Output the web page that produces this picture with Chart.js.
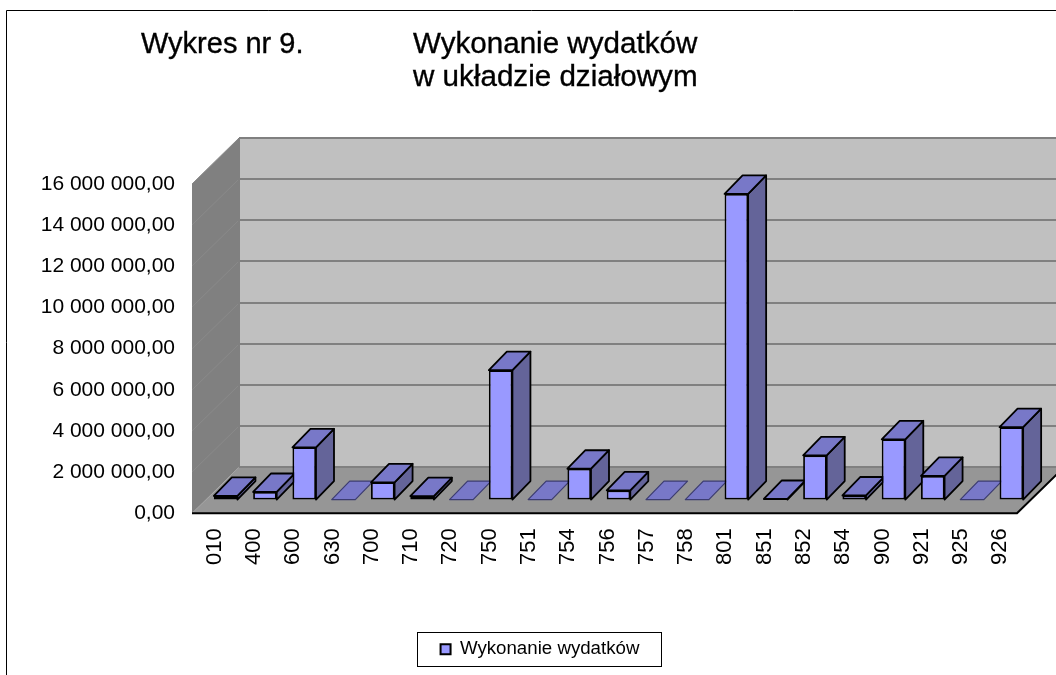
<!DOCTYPE html>
<html>
<head>
<meta charset="utf-8">
<style>html,body{margin:0;padding:0;background:#fff;overflow:hidden}#w{position:absolute;left:0;top:0;width:1056px;height:675px}</style>
<script src="https://cdn.jsdelivr.net/npm/chart.js@4"></script>
</head>
<body>
<div id="w"><canvas id="c" width="1056" height="675"></canvas></div>
<script>
const categories = ['010','400','600','630','700','710','720','750','751','754','756','757','758','801','851','852','854','900','921','925','926'];
const seriesName = 'Wykonanie wydatków';
const values = [180000,370000,2540000,0,840000,170000,0,6290000,0,1500000,450000,0,0,14850000,30000,2150000,200000,2930000,1150000,0,3520000];
const titleLeft = ['Wykres nr 9.'];
const titleRight = ['Wykonanie wydatków','w układzie działowym'];

const FONT = '"Liberation Sans", Arial, sans-serif';
const DEPTH = {x:47, y:46};      // wall/floor depth
const BAR_OFF = {x:14, y:13.7};  // bars sit inside the floor
const BAR_D = {x:18, y:18.5};    // bar depth

function poly(ctx, pts, fill, stroke, lw){
  ctx.beginPath();
  pts.forEach((p,i)=> i?ctx.lineTo(p[0],p[1]):ctx.moveTo(p[0],p[1]));
  ctx.closePath();
  if(fill){ctx.fillStyle=fill;ctx.fill();}
  if(stroke){ctx.strokeStyle=stroke;ctx.lineWidth=lw||1;ctx.lineJoin='round';ctx.stroke();}
}

const box3d = {
  id:'box3d',
  afterLayout(chart){
    const lg = chart.legend;
    lg.left = 418; lg.right = 662; lg.width = 244; lg.top = 640; lg.bottom = 666;
    if(lg.adjustHitBoxes) lg.adjustHitBoxes();
  },
  beforeDraw(chart){
    const ctx = chart.ctx;
    ctx.save();
    ctx.fillStyle='#fff';ctx.fillRect(0,0,chart.width,chart.height);
    ctx.strokeStyle='#000';ctx.lineWidth=1;
    ctx.beginPath();ctx.moveTo(6.5,675);ctx.lineTo(6.5,10.5);ctx.lineTo(1056,10.5);ctx.stroke();
    ctx.fillStyle='#000';ctx.textBaseline='alphabetic';ctx.textAlign='left';
    ctx.strokeStyle='#000';ctx.lineWidth=0.35;
    ctx.font='29px '+FONT;
    titleLeft.forEach((t,i)=>{ctx.fillText(t,141,53+i*33);ctx.strokeText(t,141,53+i*33);});
    ctx.font='29.6px '+FONT;
    titleRight.forEach((t,i)=>{ctx.fillText(t,413,53+i*33);ctx.strokeText(t,413,53+i*33);});
    // legend frame
    ctx.fillStyle='#fff';ctx.strokeStyle='#000';ctx.lineWidth=1;
    ctx.fillRect(417.5,632.5,244,34);ctx.strokeRect(417.5,632.5,244,34);
    ctx.restore();
  },
  beforeDatasetsDraw(chart){
    const ctx = chart.ctx, a = chart.chartArea, y = chart.scales.y;
    const L=a.left,R=a.right,T=a.top,B=a.bottom,dx=DEPTH.x,dy=DEPTH.y;
    ctx.save();
    // back wall
    poly(ctx,[[L+dx,T-dy],[R+dx,T-dy],[R+dx,B-dy],[L+dx,B-dy]],'#c0c0c0');
    // left wall
    poly(ctx,[[L,T],[L+dx,T-dy],[L+dx,B-dy],[L,B]],'#808080');
    // floor
    poly(ctx,[[L,B],[L+dx,B-dy],[R+dx,B-dy],[R,B]],'#969696');
    // grid lines from the y scale
    y.ticks.forEach(t=>{
      const py = Math.round(y.getPixelForValue(t.value));
      if(t.value>0){
        ctx.strokeStyle='#8a8a8a';ctx.lineWidth=1;
        ctx.beginPath();ctx.moveTo(L,py);ctx.lineTo(L+dx,py-dy);ctx.stroke();
      }
      ctx.strokeStyle='#808080';ctx.lineWidth=2;
      ctx.beginPath();ctx.moveTo(L+dx,py-dy);ctx.lineTo(R+dx,py-dy);ctx.stroke();
    });
    ctx.strokeStyle='#808080';ctx.lineWidth=2;
    ctx.beginPath();ctx.moveTo(L+dx,T-dy);ctx.lineTo(L+dx,B-dy);ctx.stroke();
    // floor front edges
    ctx.strokeStyle='#000';ctx.lineWidth=2;
    ctx.beginPath();ctx.moveTo(L,B);ctx.lineTo(R,B);ctx.lineTo(R+dx,B-dy);ctx.stroke();
    // bars' side and top faces, shifted onto the floor
    ctx.translate(BAR_OFF.x,-BAR_OFF.y);
    const meta = chart.getDatasetMeta(0);
    meta.data.forEach((bar,i)=>{
      const p = bar.getProps(['x','y','base','width'],true);
      const l=p.x-p.width/2,r=p.x+p.width/2,t=p.y,b=p.base,ox=BAR_D.x,oy=BAR_D.y;
      const flat = values[i]===0;
      const edge = flat ? '#3c3c70' : '#000';
      const lw = flat ? 1.2 : 1.8;
      if(!flat) poly(ctx,[[r,t],[r+ox,t-oy],[r+ox,b-oy],[r,b]],'#646499',edge,lw);
      poly(ctx,[[l,t],[l+ox,t-oy],[r+ox,t-oy],[r,t]],'#7878c8',edge,lw);
    });
  },
  afterDatasetsDraw(chart){ chart.ctx.restore(); }
};

new Chart(document.getElementById('c'),{
  type:'bar',
  data:{labels:categories,datasets:[{
    label:seriesName,data:values,backgroundColor:'#9999ff',borderColor:'#000',borderWidth:ctx=>ctx.raw===0?0:1.8,borderSkipped:false,
    barPercentage:0.6,categoryPercentage:1,clip:false
  }]},
  plugins:[box3d],
  options:{
    responsive:false,animation:false,
    layout:{padding:{left:0,right:39,top:184,bottom:0}},
    plugins:{
      tooltip:{enabled:false},
      title:{display:false},
      legend:{display:true,position:'bottom',
        labels:{boxWidth:10,boxHeight:10,padding:0,color:'#222',font:{family:FONT,size:18.7},
          generateLabels:()=>[{text:seriesName,fillStyle:'#9999ff',strokeStyle:'#000',lineWidth:2,hidden:false,datasetIndex:0}]
        }
      }
    },
    scales:{
      x:{
        grid:{display:false},border:{display:false},
        ticks:{color:'#000',font:{family:FONT,size:22},minRotation:90,maxRotation:90,padding:7,labelOffset:3,autoSkip:false},
        afterFit(s){s.height=133;}
      },
      y:{
        min:0,max:16000000,
        grid:{display:false},border:{display:false},
        ticks:{stepSize:2000000,color:'#000',padding:9,font:{family:FONT,size:21},
          callback:v=>{
            const s=String(Math.round(v)).replace(/\B(?=(\d{3})+(?!\d))/g,' ');
            return s+',00';
          }},
        afterFit(s){s.width=192;}
      }
    }
  }
});
</script>
</body>
</html>
